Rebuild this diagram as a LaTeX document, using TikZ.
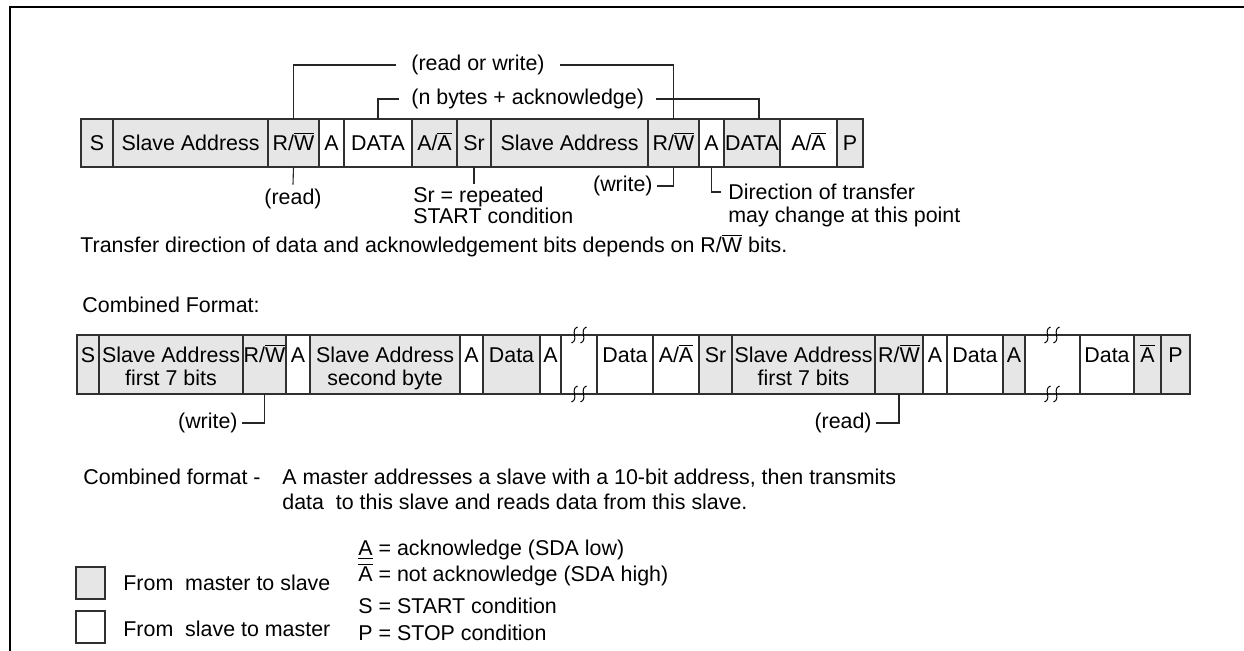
\documentclass[tikz,border=0pt]{standalone}
\usepackage{fontspec}
\setmainfont{Liberation Sans}
\newcommand\ovl[1]{$\overline{\mbox{#1}}$}
\definecolor{cellgrey}{HTML}{E6E6E6}
\definecolor{edgegrey}{HTML}{303030}
\newcommand\topcell[5]{%
  \path[cellbox,#4] (#2,119) rectangle (#3,167);
  \coordinate (#1-t) at ({(#2+#3)/2},119);
  \coordinate (#1-b) at ({(#2+#3)/2},167);
  \node[anchor=base] (#1) at ({(#2+#3)/2},150.5) {#5};}
\newcommand\cmbcell[5]{%
  \path[cellbox,#4] (#2,335) rectangle (#3,394);
  \coordinate (#1-b) at ({(#2+#3)/2},394);
  \node[anchor=base] (#1) at ({(#2+#3)/2},362.5) {#5};}
\newcommand\cmbcelltwo[6]{%
  \path[cellbox,#4] (#2,335) rectangle (#3,394);
  \node[anchor=base] (#1) at ({(#2+#3)/2},362.5) {#5};
  \node[anchor=base] (#1-l2) at ({(#2+#3)/2},386) {#6};}
\newcommand\squig[2]{%
  \draw[squigline] (#1+3,#2-8) .. controls (#1-5,#2-5) and (#1+5,#2+5) .. (#1-3,#2+8);}
\newcommand\gapcell[4]{%
  \draw[cellbox] (#2,335) -- (#3,335) (#2,394) -- (#3,394);
  \squig{#4-4.5}{335}\squig{#4+4.5}{335}\squig{#4-4.5}{394}\squig{#4+4.5}{394}}
\begin{document}
\begin{tikzpicture}[x=0.5pt,y=-0.5pt,
  every node/.style={font=\fontsize{10.7pt}{11.7pt}\selectfont, inner sep=0pt},
  cellbox/.style={draw=edgegrey, line width=0.7pt},
  mfill/.style={fill=cellgrey},
  sfill/.style={fill=white},
  lead/.style={draw=black!85, line width=0.55pt},
  squigline/.style={draw=black, line width=0.5pt},
  frameline/.style={draw=black, line width=1.3pt}]
\useasboundingbox (0,0) rectangle (1244,651);
% frame
\draw[frameline] (10,651) -- (10,7) -- (1244,7);

% ---- top row ----
\topcell{s1}{81}{113}{mfill}{S}
\topcell{sa1}{113}{268}{mfill}{Slave Address}
\topcell{rw1}{268}{319}{mfill}{R/\ovl{W}}
\topcell{a1}{319}{344}{sfill}{A}
\topcell{d1}{344}{412}{sfill}{DATA}
\topcell{aa1}{412}{457}{mfill}{A/\ovl{A}}
\topcell{sr}{457}{491}{mfill}{Sr}
\topcell{sa2}{491}{648}{mfill}{Slave Address}
\topcell{rw2}{648}{699}{mfill}{R/\ovl{W}}
\topcell{a2}{699}{724}{sfill}{A}
\topcell{d2}{724}{780}{mfill}{DATA}
\topcell{aa2}{780}{837}{sfill}{A/\ovl{A}}
\topcell{p1}{837}{863}{mfill}{P}

% labels above
\node[anchor=west, inner xsep=7.5pt] (rwl) at (396,65) {(read or write)};
\draw[lead] (rw1-t) |- (rwl.west);
\draw[lead] (rwl.east) -| (rw2-t);
\node[anchor=west, inner xsep=6pt] (nbl) at (399,99) {(n bytes + acknowledge)};
\coordinate (d2q) at (759,119);
\draw[lead] (d1-t) |- (nbl.west);
\draw[lead] (nbl.east) -| (d2q);

% labels below
\node[inner sep=2pt] (rdl) at (293,199) {(read)};
\draw[lead] (rw1-b) -- (rdl.north);
\node[anchor=base west] (srl) at (413,202.5) {Sr = repeated};
\node[anchor=base west] (srl2) at (413,223.5) {START condition};
\coordinate (srq) at (474,184);
\draw[lead] (sr-b) -- (srq);
\node[anchor=east, inner xsep=2pt] (wrl) at (657,186) {(write)};
\draw[lead] (rw2-b) |- (wrl.east);
\node[anchor=west, inner xsep=3.5pt] (dir) at (721,192) {Direction of transfer};
\node[anchor=base west] (dir2) at (728,222.5) {may change at this point};
\draw[lead] (a2-b) |- (dir.west);

\node[anchor=base west] (tdl) at (80,252.5) {Transfer direction of data and acknowledgement bits depends on R/\ovl{W} bits.};

% ---- combined format ----
\node[anchor=base west] (cfh) at (82,312.5) {Combined Format:};
\cmbcell{cs}{77}{99}{mfill}{S}
\cmbcelltwo{csa1}{99}{243}{mfill}{Slave Address}{first 7 bits}
\cmbcell{crw1}{243}{286}{mfill}{R/\ovl{W}}
\cmbcell{ca1}{286}{310}{sfill}{A}
\cmbcelltwo{csa2}{310}{460}{mfill}{Slave Address}{second byte}
\cmbcell{ca2}{460}{483}{sfill}{A}
\cmbcell{cd1}{483}{540}{mfill}{Data}
\cmbcell{ca3}{540}{561}{sfill}{A}
\gapcell{g1}{561}{597}{579}
\cmbcell{cd2}{597}{653}{sfill}{Data}
\cmbcell{caa}{653}{699}{sfill}{A/\ovl{A}}
\cmbcell{csr}{699}{732}{mfill}{Sr}
\cmbcelltwo{csa3}{732}{875}{mfill}{Slave Address}{first 7 bits}
\cmbcell{crw2}{875}{923}{mfill}{R/\ovl{W}}
\cmbcell{ca4}{923}{947}{sfill}{A}
\cmbcell{cd3}{947}{1003}{sfill}{Data}
\cmbcell{ca5}{1003}{1025}{mfill}{A}
\gapcell{g2}{1025}{1080}{1052}
\cmbcell{cd4}{1080}{1134}{sfill}{Data}
\cmbcell{cna}{1134}{1161}{mfill}{\ovl{A}}
\cmbcell{cp}{1161}{1190}{mfill}{P}

\node[anchor=east, inner xsep=2pt] (wr2) at (242,423) {(write)};
\draw[lead] (crw1-b) |- (wr2.east);
\node[anchor=east, inner xsep=2pt] (rd2) at (876,423) {(read)};
\draw[lead] (crw2-b) |- (rd2.east);

\node[anchor=base west] (cf) at (83,484.5) {Combined format -};
\node[anchor=base west] (cf1) at (282,484.5) {A master addresses a slave with a 10-bit address, then transmits};
\node[anchor=base west] (cf2) at (282,509.5) {data\ \ to this slave and reads data from this slave.};

% ---- legend ----
\node[cellbox, mfill, minimum width=14.5pt, minimum height=16pt] (lgm) at (90.5,583) {};
\node[anchor=base west] (lgmt) at (123,590.5) {From\ \ master to slave};
\node[cellbox, sfill, minimum width=14.5pt, minimum height=16pt] (lgs) at (90.5,627) {};
\node[anchor=base west] (lgst) at (123,636.5) {From\ \ slave to master};
\node[anchor=base west] (k1) at (358,555.5) {\underline{A} = acknowledge (SDA low)};
\node[anchor=base west] (k2) at (358,581.5) {\ovl{A} = not acknowledge (SDA high)};
\node[anchor=base west] (k3) at (358,613.5) {S = START condition};
\node[anchor=base west] (k4) at (358,640.5) {P = STOP condition};
\end{tikzpicture}
\end{document}
